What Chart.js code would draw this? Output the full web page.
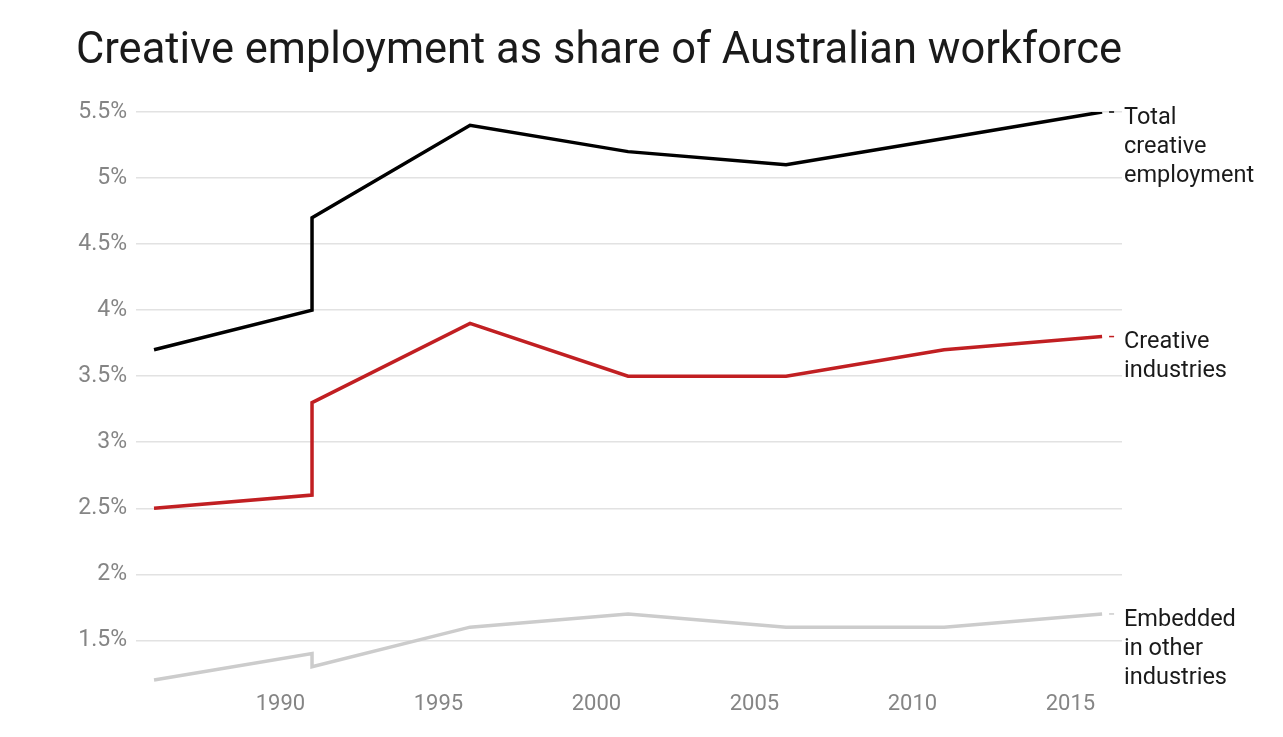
<!DOCTYPE html>
<html>
<head>
<meta charset="utf-8">
<script src="https://cdn.jsdelivr.net/npm/chart.js@4/dist/chart.umd.min.js"></script>
<style>
  html, body { margin: 0; padding: 0; background: #fff; }
  #wrap { width: 1283px; height: 737px; position: relative; }
</style>
</head>
<body>
<div id="wrap"><canvas id="chart"></canvas></div>
<script>
// census years (1991 appears twice: the series break)
const years = [1986, 1991, 1991, 1996, 2001, 2006, 2011, 2016];
const totalCreative = [3.7, 4.0, 4.7, 5.4, 5.2, 5.1, 5.3, 5.5];
const creativeIndustries = [2.5, 2.6, 3.3, 3.9, 3.5, 3.5, 3.7, 3.8];
const embeddedOther = [1.2, 1.4, 1.3, 1.6, 1.7, 1.6, 1.6, 1.7];

const xTicks = [1990, 1995, 2000, 2005, 2010, 2015];
const yTicks = [1.5, 2, 2.5, 3, 3.5, 4, 4.5, 5, 5.5];

const seriesNames = [
  ["Total", "creative", "employment"],
  ["Creative", "industries"],
  ["Embedded", "in other", "industries"],
];
const seriesColors = ["#000000", "#c11f22", "#cccccc"];

const toPoints = (vals) => vals.map((v, i) => ({ x: years[i], y: v }));

// end-of-line labels
const endLabels = {
  id: "endLabels",
  afterDatasetsDraw(chart) {
    const ctx = chart.ctx;
    ctx.save();
    chart.data.datasets.forEach((ds, i) => {
      const meta = chart.getDatasetMeta(i);
      const pt = meta.data[meta.data.length - 1];
      ctx.strokeStyle = seriesColors[i];
      ctx.lineWidth = 1.5;
      ctx.beginPath();
      ctx.moveTo(pt.x + 7, pt.y);
      ctx.lineTo(pt.x + 12, pt.y);
      ctx.stroke();
      ctx.fillStyle = "#1a1a1a";
      ctx.font = "23.5px Roboto";
      ctx.textBaseline = "middle";
      ctx.textAlign = "left";
      seriesNames[i].forEach((line, j) => {
        ctx.fillText(line, chart.chartArea.right + 2, pt.y + 6 + j * 29);
      });
    });
    ctx.restore();
  },
};

new Chart(document.getElementById("chart"), {
  type: "line",
  data: {
    datasets: [
      { data: toPoints(totalCreative), borderColor: seriesColors[0] },
      { data: toPoints(creativeIndustries), borderColor: seriesColors[1] },
      { data: toPoints(embeddedOther), borderColor: seriesColors[2] },
    ],
  },
  options: {
    responsive: true,
    maintainAspectRatio: false,
    animation: false,
    layout: { padding: { left: 76, right: 161, top: 25, bottom: 14 } },
    elements: {
      line: { borderWidth: 3.5, tension: 0, borderCapStyle: "butt", borderJoinStyle: "miter" },
      point: { radius: 0, hoverRadius: 0 },
    },
    plugins: {
      legend: { display: false },
      tooltip: { enabled: false },
      title: {
        display: true,
        text: "Creative employment as share of Australian workforce",
        align: "start",
        color: "#1a1a1a",
        font: { family: "Roboto", size: 45, weight: "400" },
        padding: { top: 0, bottom: 33 },
      },
    },
    scales: {
      x: {
        type: "linear",
        min: 1985.43,
        max: 2016.63,
        afterBuildTicks: (axis) => {
          axis.ticks = xTicks.map((v) => ({ value: v }));
        },
        ticks: {
          color: "#858585",
          font: { family: "Roboto", size: 22 },
          padding: 5,
          callback: (v) => String(v),
        },
        grid: { display: false, drawTicks: false },
        border: { display: false },
      },
      y: {
        min: 1.15,
        max: 5.5,
        afterBuildTicks: (axis) => {
          axis.ticks = yTicks.map((v) => ({ value: v }));
        },
        afterFit: (axis) => { axis.width = 60; },
        ticks: {
          color: "#858585",
          font: { family: "Roboto", size: 23 },
          padding: 9,
          callback: (v) => v + "%",
        },
        grid: { color: "#e2e2e2", lineWidth: 1.5, drawTicks: false },
        border: { display: false },
      },
    },
  },
  plugins: [endLabels],
});
</script>
</body>
</html>
